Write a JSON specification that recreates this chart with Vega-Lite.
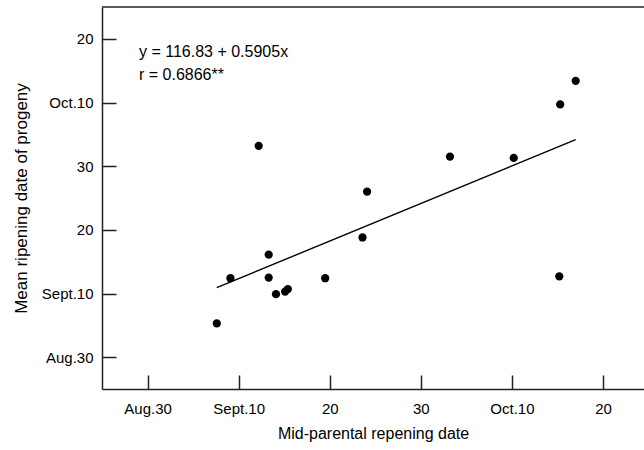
{
  "$schema": "https://vega.github.io/schema/vega-lite/v6.json",
  "autosize": {"type": "none"},
  "padding": {"left": 102, "top": 7, "right": 0, "bottom": 61},
  "width": 542,
  "height": 382,
  "background": "white",
  "config": {
    "view": {"stroke": null},
    "axis": {
      "grid": false,
      "domainColor": "#222222",
      "domainWidth": 1.5,
      "tickColor": "#222222",
      "tickWidth": 1.5,
      "labelColor": "black",
      "titleColor": "black",
      "labelFont": "Liberation Sans",
      "titleFont": "Liberation Sans",
      "titleFontWeight": "normal",
      "labelFontSize": 15
    }
  },
  "data": {
    "values": [
      {"parent": 250.6, "progeny": 248.3},
      {"parent": 252.1, "progeny": 255.4},
      {"parent": 255.2, "progeny": 276.2},
      {"parent": 256.3, "progeny": 259.1},
      {"parent": 256.3, "progeny": 255.5},
      {"parent": 257.1, "progeny": 252.9},
      {"parent": 258.1, "progeny": 253.3},
      {"parent": 258.4, "progeny": 253.7},
      {"parent": 262.5, "progeny": 255.4},
      {"parent": 266.6, "progeny": 261.8},
      {"parent": 267.1, "progeny": 269.0},
      {"parent": 276.2, "progeny": 274.5},
      {"parent": 283.2, "progeny": 274.3},
      {"parent": 288.2, "progeny": 255.7},
      {"parent": 288.3, "progeny": 282.7},
      {"parent": 290.0, "progeny": 286.4}
    ]
  },
  "layer": [
    {
      "data": {"values": [{"top": 298}]},
      "mark": {"type": "rule", "color": "#222222", "strokeWidth": 1.5},
      "encoding": {"y": {"field": "top", "type": "quantitative"}}
    },
    {
      "mark": {"type": "circle", "color": "black", "opacity": 1, "size": 68},
      "encoding": {
        "x": {
          "field": "parent",
          "type": "quantitative",
          "scale": {"domain": [238, 297.5], "nice": false, "zero": false},
          "axis": {
            "values": [243, 253, 263, 273, 283, 293],
            "labelExpr": "datum.value == 243 ? 'Aug.30' : datum.value == 253 ? 'Sept.10' : datum.value == 263 ? '20' : datum.value == 273 ? '30' : datum.value == 283 ? 'Oct.10' : '20'",
            "ticks": true,
            "tickSize": -14,
            "labelPadding": 26,
            "title": "Mid-parental repening date",
            "titleFontSize": 16,
            "titlePadding": 9
          }
        },
        "y": {
          "field": "progeny",
          "type": "quantitative",
          "scale": {"domain": [238, 298], "nice": false, "zero": false},
          "axis": {
            "values": [243, 253, 263, 273, 283, 293],
            "labelExpr": "datum.value == 243 ? 'Aug.30' : datum.value == 253 ? 'Sept.10' : datum.value == 263 ? '20' : datum.value == 273 ? '30' : datum.value == 283 ? 'Oct.10' : '20'",
            "ticks": true,
            "tickSize": -14,
            "labelPadding": 23,
            "title": "Mean ripening date of progeny",
            "titleFontSize": 17,
            "titlePadding": 11
          }
        }
      }
    },
    {
      "transform": [{"regression": "progeny", "on": "parent"}],
      "mark": {"type": "line", "color": "black", "strokeWidth": 1.4},
      "encoding": {
        "x": {"field": "parent", "type": "quantitative"},
        "y": {"field": "progeny", "type": "quantitative"}
      }
    },
    {
      "data": {"values": [{"eq": "y = 116.83 + 0.5905x", "r": "r = 0.6866**"}]},
      "mark": {
        "type": "text",
        "align": "left",
        "baseline": "middle",
        "lineHeight": 23,
        "font": "Liberation Sans",
        "fontSize": 16,
        "color": "black"
      },
      "encoding": {
        "text": {"value": ["y = 116.83 + 0.5905x", "r = 0.6866**"]},
        "x": {"datum": 242.06, "type": "quantitative"},
        "y": {"datum": 290.86, "type": "quantitative"}
      }
    }
  ]
}
